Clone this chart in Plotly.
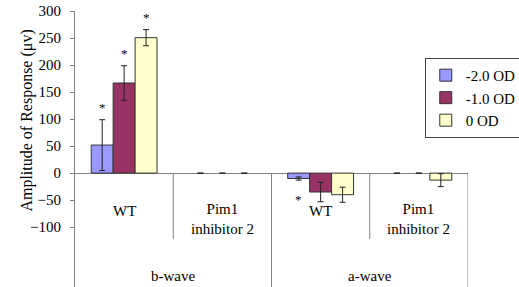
import plotly.graph_objects as go

categories = ["b-WT", "b-Pim1", "a-WT", "a-Pim1"]
cat_labels = ["WT", "Pim1<br>inhibitor 2", "WT", "Pim1<br>inhibitor 2"]
group_labels = ["b-wave", "a-wave"]
series_names = ["-2.0 OD", "-1.0 OD", "0 OD"]
colors = ["#9999FF", "#993366", "#FFFFCC"]

vals_m2 = [52, 0, -10, 0]
vals_m1 = [167, 0, -35, 0]
vals_0 = [251, 0, -40, -13]
err_m2 = [47, 0, 3, 0]
err_m1 = [32, 0, 18, 0]
err_0 = [15, 0, 14, 12]
sig_m2 = [True, False, True, False]
sig_m1 = [True, False, False, False]
sig_0 = [True, False, False, False]

values = [vals_m2, vals_m1, vals_0]
errors = [err_m2, err_m1, err_0]
sigs = [sig_m2, sig_m1, sig_0]

FONT = "Times New Roman, Liberation Serif, serif"
FS = 15
BARGAP = 0.33
fig = go.Figure()
for i, name in enumerate(series_names):
    fig.add_trace(go.Bar(
        x=categories, y=values[i], name=name, offsetgroup=str(i),
        marker=dict(color=colors[i],
                    line=dict(color="#333333", width=[0 if v == 0 else 1 for v in values[i]])),
        error_y=dict(type="data", array=errors[i], visible=True,
                     color="#222222", thickness=1, width=3),
    ))

annotations = []
bar_w = (1 - BARGAP) / len(series_names)
for i in range(len(series_names)):
    for k, (v, e, s) in enumerate(zip(values[i], errors[i], sigs[i])):
        if not s:
            continue
        up = v >= 0
        annotations.append(dict(
            x=k + (i - (len(series_names) - 1) / 2) * bar_w, xref="x", yref="y",
            y=v + e if up else v - e, yanchor="bottom" if up else "top",
            yshift=3 if up else -10, text="*", showarrow=False,
            font=dict(family=FONT, size=13, color="black")))

shapes = []
for k in range(1, len(categories) + 1):
    outer = (k % 2 == 0)
    shapes.append(dict(type="line", xref="x", yref="y",
                       x0=k - 0.5, x1=k - 0.5, y0=0, y1=-211 if outer else -122,
                       line=dict(color="#808080", width=1)))

for k, lab in enumerate(cat_labels):
    annotations.append(dict(x=categories[k], y=-70 if "<br>" not in lab else -85,
                            xref="x", yref="y", text=lab, showarrow=False,
                            font=dict(family=FONT, size=FS, color="black")))
for g, lab in enumerate(group_labels):
    annotations.append(dict(x=2 * g + 0.5, y=-191, xref="x", yref="y", text=lab,
                            showarrow=False, font=dict(family=FONT, size=FS, color="black")))
annotations.append(dict(x=-0.150, y=0.603, xref="paper", yref="paper",
                        text="Amplitude of Response (μv)", textangle=-90, showarrow=False,
                        font=dict(family=FONT, size=16, color="black")))

fig.update_layout(
    width=519, height=287,
    margin=dict(l=75, r=51, t=11, b=0, autoexpand=False),
    paper_bgcolor="white", plot_bgcolor="white",
    barmode="group", bargap=BARGAP, bargroupgap=0,
    showlegend=True,
    legend=dict(x=0.89, y=0.83, xanchor="left", yanchor="top",
                bordercolor="#444444", borderwidth=1, bgcolor="white",
                itemwidth=30, tracegroupgap=0,
                font=dict(family=FONT, size=FS, color="black")),
    xaxis=dict(range=[-0.5, 3.5], showticklabels=False, showgrid=False,
               zeroline=False, showline=False, ticks=""),
    yaxis=dict(range=[-211, 300.4], tickvals=[-100, -50, 0, 50, 100, 150, 200, 250, 300],
               showgrid=False, zeroline=True, zerolinecolor="#808080", zerolinewidth=1,
               showline=True, linecolor="#808080", linewidth=1,
               ticks="outside", ticklen=4, tickcolor="#808080", ticklabelstandoff=6,
               ticklabeloverflow="allow",
               tickfont=dict(family=FONT, size=FS, color="black")),
    shapes=shapes, annotations=annotations,
)
fig.write_html("out.html", config={"displayModeBar": False},
               post_script="document.body.style.margin='0';")
